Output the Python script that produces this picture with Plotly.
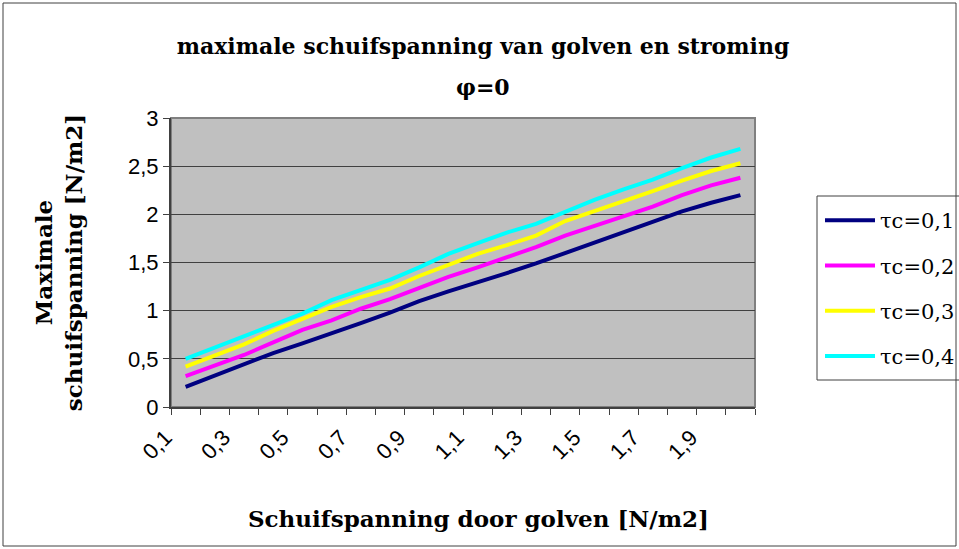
import plotly.graph_objects as go

# Wave-induced shear stress (categories) and maximum shear stress per current stress
tau_w = [0.1, 0.2, 0.3, 0.4, 0.5, 0.6, 0.7, 0.8, 0.9, 1.0,
         1.1, 1.2, 1.3, 1.4, 1.5, 1.6, 1.7, 1.8, 1.9, 2.0]
tau_c01 = [0.21, 0.33, 0.45, 0.56, 0.66, 0.76, 0.87, 0.98, 1.10, 1.20,
           1.29, 1.39, 1.49, 1.60, 1.71, 1.82, 1.92, 2.03, 2.12, 2.20]
tau_c02 = [0.32, 0.43, 0.54, 0.67, 0.80, 0.90, 1.02, 1.12, 1.24, 1.35,
           1.45, 1.55, 1.66, 1.78, 1.88, 1.97, 2.08, 2.20, 2.30, 2.38]
tau_c03 = [0.42, 0.53, 0.65, 0.79, 0.92, 1.04, 1.14, 1.23, 1.36, 1.47,
           1.59, 1.68, 1.78, 1.93, 2.03, 2.14, 2.24, 2.35, 2.45, 2.53]
tau_c04 = [0.50, 0.62, 0.73, 0.85, 0.97, 1.11, 1.22, 1.32, 1.45, 1.59,
           1.70, 1.81, 1.90, 2.03, 2.15, 2.26, 2.36, 2.48, 2.59, 2.68]

series_names = ["τc=0,1", "τc=0,2", "τc=0,3", "τc=0,4"]
series_values = [tau_c01, tau_c02, tau_c03, tau_c04]
series_colors = ["#000080", "#FF00FF", "#FFFF00", "#00FFFF"]

# every second category is labelled
x_tick_pos = tau_w[::2]
x_tick_labels = ["0,1", "0,3", "0,5", "0,7", "0,9", "1,1", "1,3", "1,5", "1,7", "1,9"]

y_ticks = [0, 0.5, 1, 1.5, 2, 2.5, 3]

W, H = 959, 549
L, R, T, B = 171, 204, 118, 142
pw, ph = W - L - R, H - T - B

def px_x(p):
    return (p - L) / pw

def px_y(p):
    return (H - B - p) / ph

serif = "DejaVu Serif"
sans = "Liberation Sans"

fig = go.Figure()
for i, (name, vals, col) in enumerate(zip(series_names, series_values, series_colors)):
    fig.add_trace(go.Scatter(
        x=tau_w, y=vals, mode="lines", name=name,
        line=dict(color=col, width=4),
        legendgroup=f"g{i}",
    ))

half = (tau_w[1] - tau_w[0]) / 2
boundaries = [v - half for v in tau_w] + [tau_w[-1] + half]

fig.update_layout(
    width=W, height=H,
    margin=dict(l=L, r=R, t=T, b=B, autoexpand=False),
    paper_bgcolor="white",
    plot_bgcolor="#C0C0C0",
    separators=", ",
    title=dict(
        text="maximale schuifspanning van golven en stroming",
        x=483 / W, xanchor="center", xref="container",
        y=1 - 46 / H, yanchor="middle", yref="container",
        font=dict(family=serif, size=22, color="black", weight="bold"),
    ),
    showlegend=True,
    legend=dict(
        x=px_x(820), y=px_y(200), xanchor="left", yanchor="top",
        bgcolor="rgba(0,0,0,0)", borderwidth=0,
        font=dict(family=serif, size=21, color="black"),
        tracegroupgap=15, traceorder="grouped", itemwidth=50,
    ),
)

fig.add_annotation(
    text="<b>φ=0</b>", x=px_x(483), xref="paper", y=px_y(87), yref="paper",
    xanchor="center", yanchor="middle", showarrow=False,
    font=dict(family=serif, size=22, color="black"),
)
# x-axis title
fig.add_annotation(
    text="<b>Schuifspanning door golven [N/m2]</b>",
    x=px_x(478), xref="paper", y=px_y(518), yref="paper",
    xanchor="center", yanchor="middle", showarrow=False,
    font=dict(family=serif, size=23, color="black"),
)

fig.update_xaxes(
    range=[boundaries[0], boundaries[-1]],
    tickmode="array", tickvals=x_tick_pos, ticktext=x_tick_labels,
    tickangle=-45, ticks="", ticklabelshift=-20, ticklabelstandoff=7,
    tickfont=dict(family=sans, size=22, color="black"),
    minor=dict(tickmode="array", tickvals=boundaries, ticks="outside",
               ticklen=6, tickwidth=1, tickcolor="#404040", showgrid=False),
    showgrid=False, zeroline=False,
    showline=True, linecolor="#404040", linewidth=2,
)
fig.update_yaxes(
    range=[0, 3], tickmode="array", tickvals=y_ticks,
    ticks="outside", ticklen=6, tickwidth=1, tickcolor="#404040",
    tickfont=dict(family=sans, size=22, color="black"),
    showgrid=True, gridcolor="#404040", gridwidth=1, zeroline=False,
    showline=True, linecolor="#404040", linewidth=2,
    title=dict(text="<b>Maximale<br>schuifspanning [N/m2]</b>",
               font=dict(family=serif, size=23, color="black"), standoff=39),
)

# plot-area frame (top/right in lighter grey)
fig.add_shape(type="rect", xref="paper", yref="paper", x0=0, x1=1, y0=0, y1=1,
              line=dict(color="#808080", width=2), layer="below")
# legend frame
fig.add_shape(type="rect", xref="paper", yref="paper",
              x0=px_x(817), x1=px_x(960), y0=px_y(380), y1=px_y(196),
              line=dict(color="#404040", width=1), fillcolor="white", layer="below")
# chart frame
fig.add_shape(type="rect", xref="paper", yref="paper",
              x0=px_x(3), x1=px_x(956), y0=px_y(546), y1=px_y(3),
              line=dict(color="#404040", width=1), layer="below")

fig.write_html("out.html")
